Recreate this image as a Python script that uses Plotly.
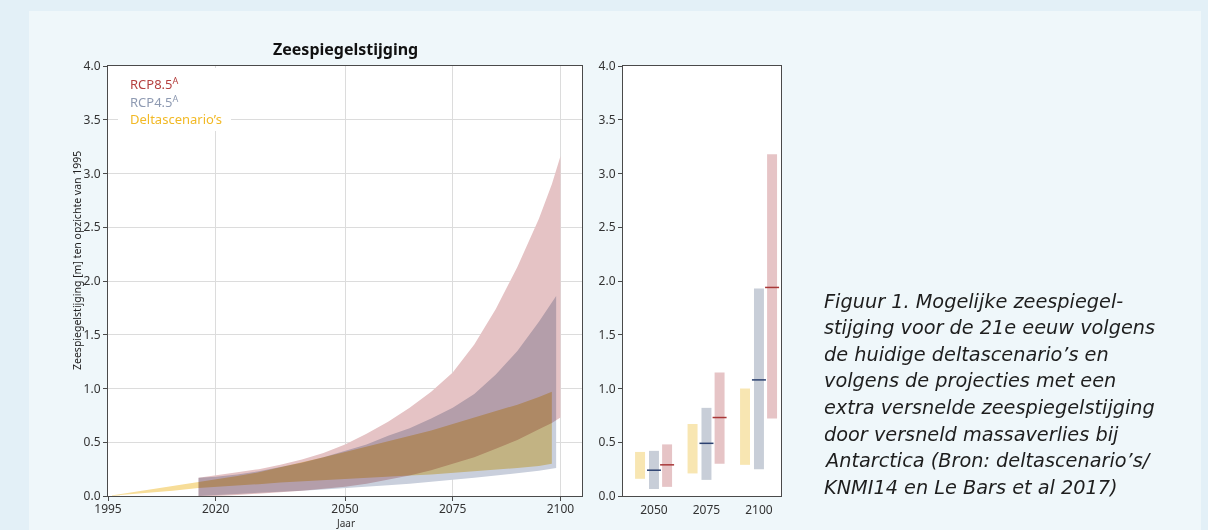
import plotly.graph_objects as go

W, H = 1208, 530

# --- main panel: bands (year, upper, lower) ---
delta_years = [1995, 2000, 2010, 2016, 2020, 2025, 2030, 2035, 2040, 2045, 2050, 2055, 2060,
               2065, 2070, 2075, 2080, 2085, 2090, 2095, 2098]
delta_hi = [0.0, 0.03, 0.09, 0.13, 0.15, 0.185, 0.22, 0.265, 0.31, 0.36, 0.41, 0.46, 0.51,
            0.56, 0.61, 0.67, 0.73, 0.79, 0.85, 0.92, 0.97]
delta_lo = [0.0, 0.015, 0.05, 0.075, 0.08, 0.095, 0.11, 0.125, 0.14, 0.15, 0.16, 0.17, 0.18,
            0.19, 0.20, 0.21, 0.23, 0.245, 0.26, 0.28, 0.30]

rcp45_years = [2016, 2020, 2025, 2030, 2035, 2040, 2045, 2050, 2055, 2060, 2065, 2070, 2075,
               2080, 2085, 2090, 2095, 2099]
rcp45_hi = [0.17, 0.18, 0.20, 0.23, 0.27, 0.31, 0.36, 0.42, 0.48, 0.56, 0.63, 0.72, 0.82,
            0.95, 1.13, 1.35, 1.62, 1.86]
rcp45_lo = [0.0, 0.01, 0.02, 0.03, 0.04, 0.05, 0.06, 0.07, 0.085, 0.10, 0.115, 0.13, 0.15,
            0.17, 0.19, 0.21, 0.235, 0.26]

rcp85_years = [2016, 2020, 2025, 2030, 2035, 2040, 2045, 2050, 2055, 2060, 2065, 2070, 2075,
               2080, 2085, 2090, 2095, 2098, 2100]
rcp85_hi = [0.17, 0.19, 0.22, 0.25, 0.29, 0.34, 0.40, 0.48, 0.58, 0.69, 0.82, 0.97, 1.15,
            1.41, 1.74, 2.13, 2.58, 2.90, 3.16]
rcp85_lo = [0.0, 0.0, 0.01, 0.02, 0.035, 0.05, 0.065, 0.085, 0.115, 0.15, 0.19, 0.24, 0.30,
            0.36, 0.44, 0.52, 0.62, 0.68, 0.73]

# --- right panel: ranges per horizon ---
horizons = ["2050", "2075", "2100"]
bar_delta_lo = [0.16, 0.21, 0.29]
bar_delta_hi = [0.41, 0.67, 1.00]
bar_45_lo = [0.065, 0.15, 0.25]
bar_45_hi = [0.42, 0.82, 1.93]
bar_45_med = [0.24, 0.49, 1.08]
bar_85_lo = [0.085, 0.30, 0.72]
bar_85_hi = [0.48, 1.15, 3.18]
bar_85_med = [0.29, 0.73, 1.94]

caption_lines = [
    "Figuur 1. Mogelijke zeespiegel-",
    "stijging voor de 21e eeuw volgens",
    "de huidige deltascenario’s en",
    "volgens de projecties met een",
    "extra versnelde zeespiegelstijging",
    "door versneld massaverlies bij",
    "Antarctica (Bron: deltascenario’s/",
    "KNMI14 en Le Bars et al 2017)",
]

FONT = "Noto Sans"
CAPTION_FONT = "DejaVu Sans"
RED, GREY, YEL = "#e5c3c5", "#c9cfdc", "#f7dd98"


def px_x(p):
    return p / W


def px_y(p):
    return 1 - p / H


def band(years, hi, lo, color):
    return go.Scatter(
        x=years + years[::-1], y=hi + lo[::-1],
        fill="toself", fillcolor=color, mode="lines", line=dict(width=0),
        hoverinfo="skip", showlegend=False, xaxis="x", yaxis="y",
    )


fig = go.Figure()
fig.add_trace(band(rcp85_years, rcp85_hi, rcp85_lo, RED))
fig.add_trace(band(rcp45_years, rcp45_hi, rcp45_lo, GREY))
fig.add_trace(band(delta_years, delta_hi, delta_lo, YEL))

offsets = [-0.265, 0.0, 0.25]
bw = 0.19
idx = list(range(len(horizons)))
for off, lo, hi, col in [
    (offsets[0], bar_delta_lo, bar_delta_hi, "#f8e6b2"),
    (offsets[1], bar_45_lo, bar_45_hi, "#c8ced8"),
    (offsets[2], bar_85_lo, bar_85_hi, "#e6c4c6"),
]:
    fig.add_trace(go.Bar(
        x=[i + off for i in idx], y=[h - l for h, l in zip(hi, lo)], base=lo,
        width=bw, marker=dict(color=col, line=dict(width=0)),
        hoverinfo="skip", showlegend=False, xaxis="x2", yaxis="y2",
    ))

for off, med, col in [(offsets[1], bar_45_med, "#2c4170"), (offsets[2], bar_85_med, "#a83838")]:
    fig.add_trace(go.Scatter(
        x=[i + off for i in idx], y=med, mode="markers",
        marker=dict(symbol="line-ew", size=10, line=dict(width=1.5, color=col)),
        hoverinfo="skip", showlegend=False, xaxis="x2", yaxis="y2",
    ))

tickfont = dict(family=FONT, size=12, color="#333")
axis_common = dict(
    showline=True, linecolor="#4a4a4a", linewidth=1.2, mirror=True,
    ticks="outside", ticklen=4, tickcolor="#4a4a4a", automargin=False,
    tickfont=tickfont, zeroline=False,
)

fig.update_layout(
    width=W, height=H,
    margin=dict(l=0, r=0, t=0, b=0, pad=0, autoexpand=False),
    paper_bgcolor="#eff7fa",
    plot_bgcolor="white",
    barmode="overlay",
    xaxis=dict(
        domain=[px_x(108), px_x(582)], range=[1995, 2105],
        tickvals=[1995, 2020, 2050, 2075, 2100], ticklabelstandoff=-3,
        showgrid=True, gridcolor="#dcdcdc", gridwidth=1, **axis_common,
    ),
    yaxis=dict(
        domain=[px_y(496), px_y(66)], range=[0, 4], dtick=0.5, tickformat=".1f",
        showgrid=True, gridcolor="#dcdcdc", gridwidth=1, **axis_common,
    ),
    xaxis2=dict(
        domain=[px_x(623), px_x(781)], range=[-0.59, 2.42], anchor="y2",
        tickvals=idx, ticktext=horizons, showgrid=False, automargin=False,
        showline=True, linecolor="#4a4a4a", linewidth=1.2, mirror=True,
        ticks="", ticklabelstandoff=2, tickfont=tickfont, zeroline=False,
    ),
    yaxis2=dict(
        domain=[px_y(496), px_y(66)], range=[0, 4], dtick=0.5, tickformat=".1f",
        anchor="x2", showgrid=False, **axis_common,
    ),
    font=dict(family=FONT, color="#333"),
)

# outer page frame + legend backdrop
frame = "#e3f0f7"
shapes = [
    dict(type="rect", xref="paper", yref="paper", x0=0, x1=1, y0=px_y(11), y1=1,
         fillcolor=frame, line=dict(width=0), layer="below"),
    dict(type="rect", xref="paper", yref="paper", x0=0, x1=px_x(29), y0=0, y1=1,
         fillcolor=frame, line=dict(width=0), layer="below"),
    dict(type="rect", xref="paper", yref="paper", x0=px_x(1201), x1=1, y0=0, y1=1,
         fillcolor=frame, line=dict(width=0), layer="below"),
    dict(type="rect", xref="paper", yref="paper", x0=px_x(118), x1=px_x(231),
         y0=px_y(131), y1=px_y(68), fillcolor="white", line=dict(width=0), layer="above"),
]
fig.update_layout(shapes=shapes)

ann = [
    dict(text="<b>Zeespiegelstijging</b>", x=px_x(345), y=px_y(49),
         font=dict(size=16, color="#111")),
    dict(text="Jaar", x=px_x(345), y=px_y(522.5), font=dict(size=10, color="#333")),
    dict(text="Zeespiegelstijging [m] ten opzichte van 1995", x=px_x(77), y=px_y(261),
         textangle=-90, font=dict(size=10.5, color="#222")),
    dict(text="RCP8.5<sup>A</sup>", x=px_x(128), y=px_y(84), xanchor="left",
         font=dict(size=13, color="#b5403f")),
    dict(text="RCP4.5<sup>A</sup>", x=px_x(128), y=px_y(101), xanchor="left",
         font=dict(size=13, color="#8e9ab2")),
    dict(text="Deltascenario’s", x=px_x(128), y=px_y(119), xanchor="left",
         font=dict(size=13, color="#f2b926")),
]
for k, line in enumerate(caption_lines):
    ann.append(dict(text=f"<i>{line}</i>", x=px_x(822), y=px_y(301 + 26.6 * k),
                    xanchor="left", font=dict(family=CAPTION_FONT, size=19.3, color="#1e1e1e")))
for a in ann:
    a.setdefault("xanchor", "center")
    a.update(xref="paper", yref="paper", yanchor="middle", showarrow=False)
    a["font"].setdefault("family", FONT)
fig.update_layout(annotations=ann)

# page without default body margin; overlapping bands blend (multiply) as in the original
page_js = """
document.body.style.margin = '0';
document.body.style.overflow = 'hidden';
var gd = document.getElementById('{plot_id}');
function blend(){
  gd.querySelectorAll('.scatterlayer .js-fill').forEach(function(p){
    p.style.mixBlendMode = 'multiply';
  });
}
blend();
gd.on('plotly_afterplot', blend);
setTimeout(blend, 50);
"""

fig.write_html("out.html", post_script=page_js, config={"displayModeBar": False})
